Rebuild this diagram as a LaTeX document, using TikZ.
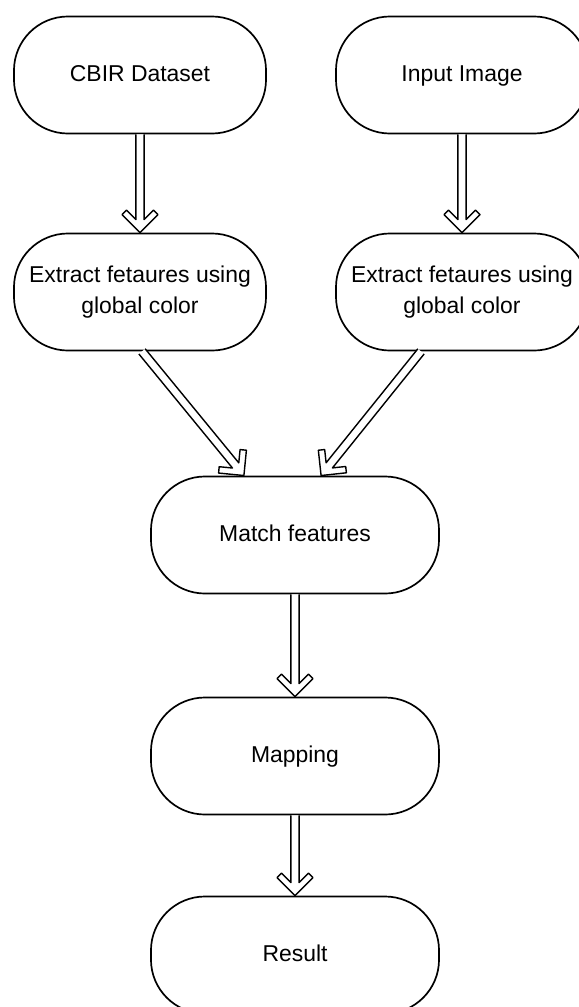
\documentclass[tikz,border=0pt]{standalone}
\usepackage{fontspec}
\setmainfont{Liberation Sans}
\usetikzlibrary{arrows.meta,calc}

% hollow block arrow from #1 to #2
\newcommand{\hollowarrow}[2]{%
  \draw[hollowline] let \p1=($(#2)-(#1)$), \n1={atan2(\y1,\x1)}, \n2={veclen(\x1,\y1)} in
    [shift={(#1)},rotate=\n1]
    (0pt,2.9pt) -- (\n2-9.3pt,2.9pt) -- (\n2-16pt,9.6pt) -- (\n2-12.8pt,12.8pt) -- (\n2,0pt)
    -- (\n2-12.8pt,-12.8pt) -- (\n2-16pt,-9.6pt) -- (\n2-9.3pt,-2.9pt) -- (0pt,-2.9pt);}

\begin{document}
\begin{tikzpicture}[
  x=0.025cm, y=-0.025cm,
  every node/.style={font=\fontsize{16.3}{22}\selectfont},
  flowbox/.style={draw,line width=1.2pt,rounded corners=1.35cm,minimum width=6.3cm,
                  minimum height=2.925cm,align=center,inner sep=2pt},
  widebox/.style={flowbox,minimum width=7.2cm},
  hollowline/.style={draw,fill=white,line width=1pt,line join=round},
]
  \useasboundingbox (0,0) rectangle (579,1007);

  % Inputs
  \node[flowbox] (dataset) at (140,75) {\strut CBIR Dataset};
  \node[flowbox] (input) at (462,75) {\strut Input Image};

  % Feature extraction
  \node[flowbox] (extL) at (140,292) {Extract fetaures using\\global color};
  \node[flowbox] (extR) at (462,292) {Extract fetaures using\\global color};

  % Matching and output
  \node[widebox] (match) at (295,535) {\strut Match features};
  \node[widebox] (mapping) at (295,756) {\strut Mapping};
  \node[widebox] (result) at (295,955) {\strut Result};

  % Arrow ends
  \coordinate (fromL) at ($(extL.south)+(2,0)$);
  \coordinate (fromR) at ($(extR.south)+(-41,0)$);
  \coordinate (toL) at ($(match.north)+(-51,0)$);
  \coordinate (toR) at ($(match.north)+(26,0)$);

  % Arrows
  \hollowarrow{dataset.south}{extL.north}
  \hollowarrow{input.south}{extR.north}
  \hollowarrow{fromL}{toL}
  \hollowarrow{fromR}{toR}
  \hollowarrow{match.south}{mapping.north}
  \hollowarrow{mapping.south}{result.north}
\end{tikzpicture}
\end{document}
